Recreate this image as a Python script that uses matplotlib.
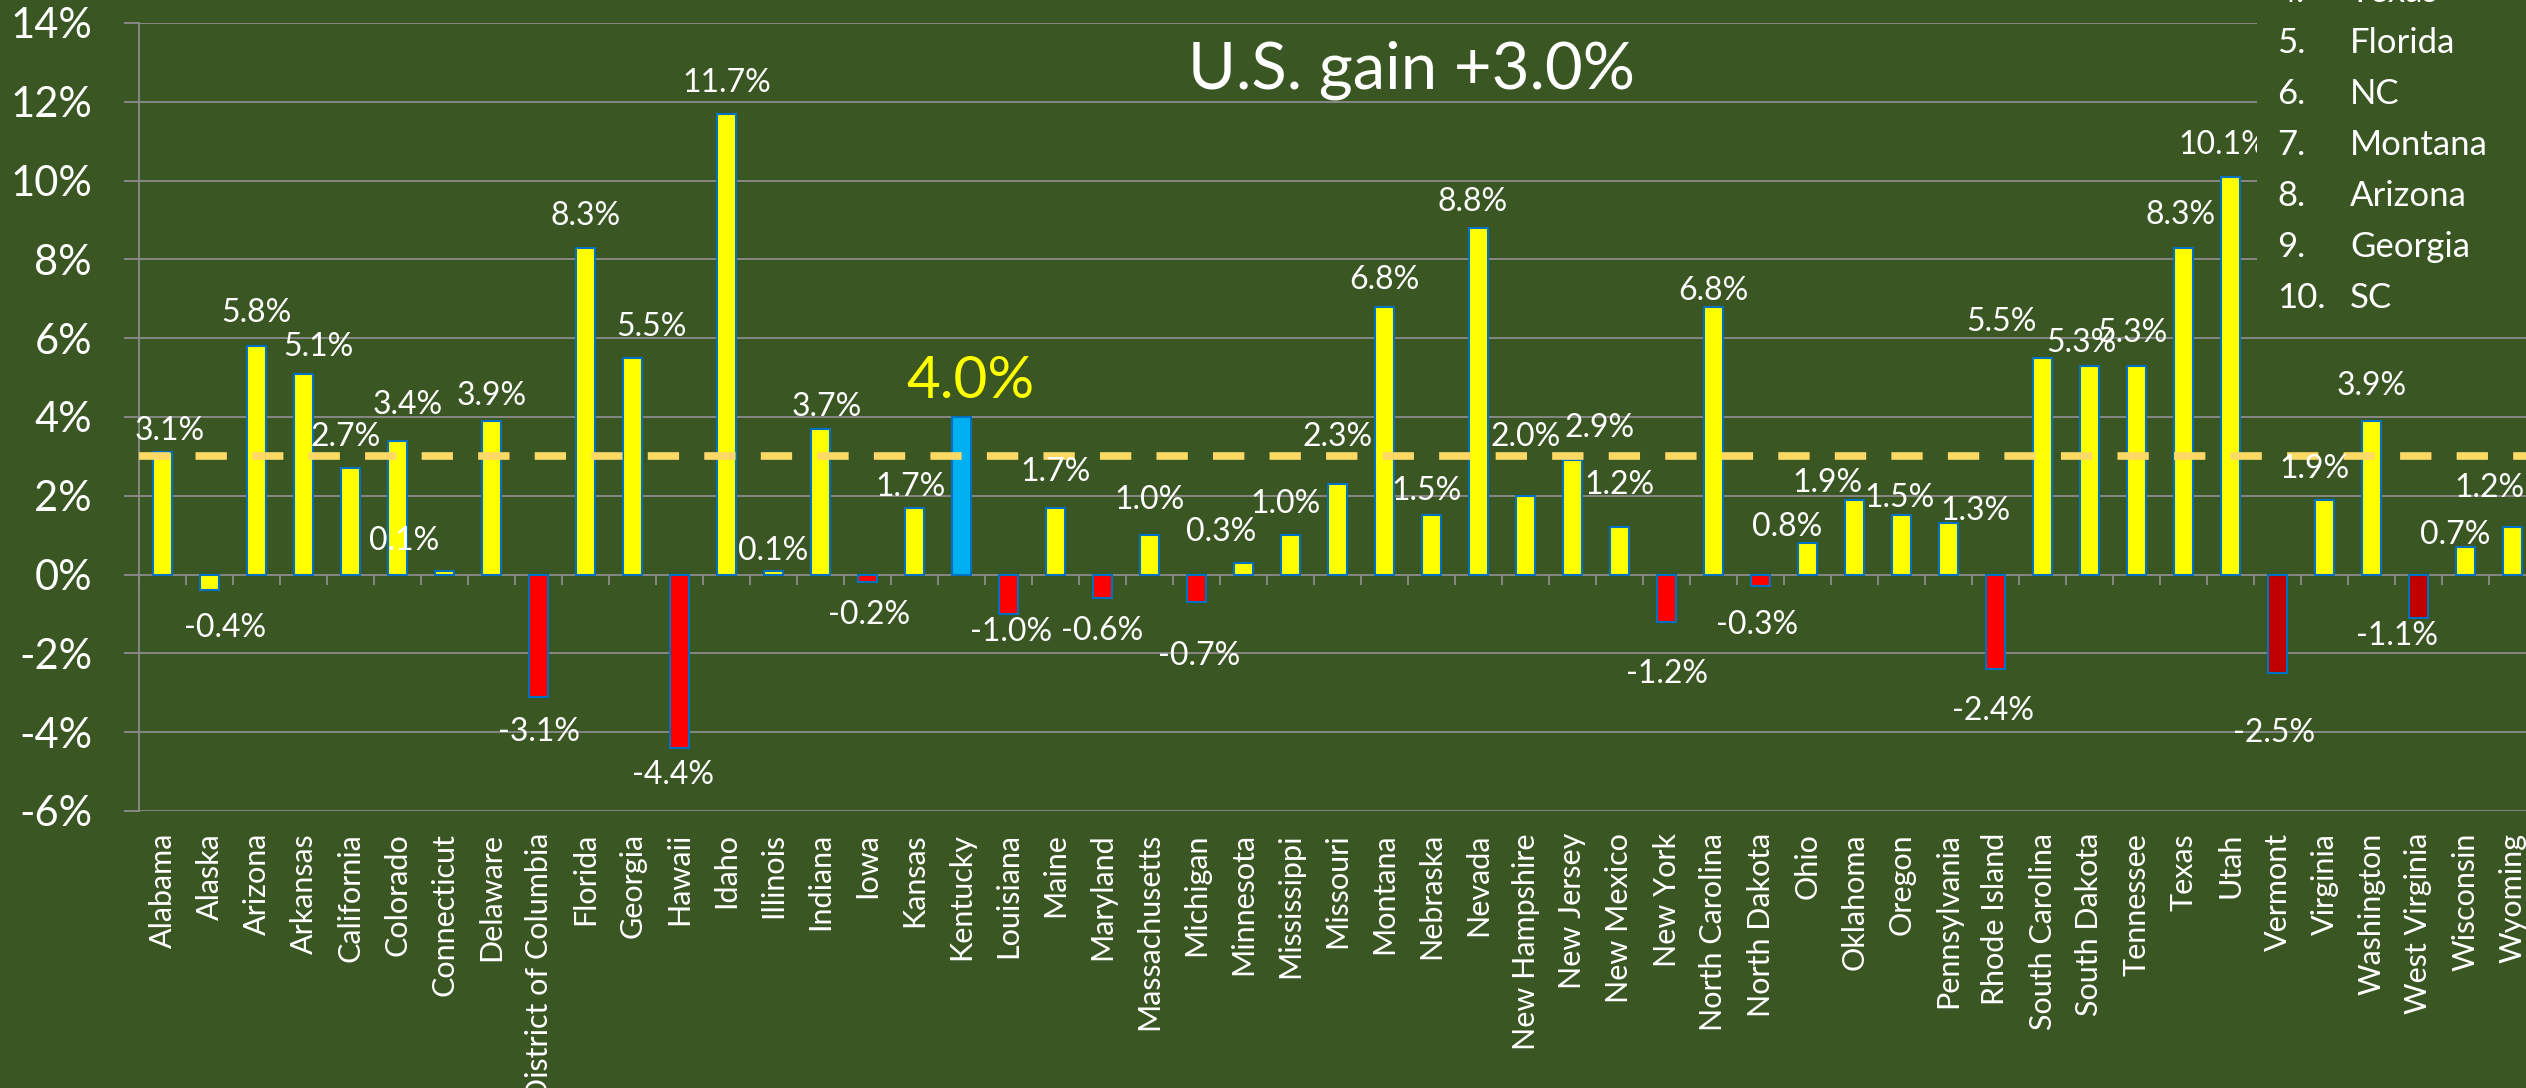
import matplotlib
matplotlib.use('Agg')
import matplotlib.pyplot as plt
from matplotlib.patches import Rectangle
from matplotlib.markers import TICKDOWN

plt.rcParams['font.family'] = ['Lato', 'DejaVu Sans']

states = ['Alabama', 'Alaska', 'Arizona', 'Arkansas', 'California', 'Colorado',
          'Connecticut', 'Delaware', 'District of Columbia', 'Florida', 'Georgia',
          'Hawaii', 'Idaho', 'Illinois', 'Indiana', 'Iowa', 'Kansas', 'Kentucky',
          'Louisiana', 'Maine', 'Maryland', 'Massachusetts', 'Michigan', 'Minnesota',
          'Mississippi', 'Missouri', 'Montana', 'Nebraska', 'Nevada', 'New Hampshire',
          'New Jersey', 'New Mexico', 'New York', 'North Carolina', 'North Dakota',
          'Ohio', 'Oklahoma', 'Oregon', 'Pennsylvania', 'Rhode Island',
          'South Carolina', 'South Dakota', 'Tennessee', 'Texas', 'Utah', 'Vermont',
          'Virginia', 'Washington', 'West Virginia', 'Wisconsin', 'Wyoming']
growth = [3.1, -0.4, 5.8, 5.1, 2.7, 3.4, 0.1, 3.9, -3.1, 8.3, 5.5, -4.4, 11.7,
          0.1, 3.7, -0.2, 1.7, 4.0, -1.0, 1.7, -0.6, 1.0, -0.7, 0.3, 1.0, 2.3,
          6.8, 1.5, 8.8, 2.0, 2.9, 1.2, -1.2, 6.8, -0.3, 0.8, 1.9, 1.5, 1.3, -2.4,
          5.5, 5.3, 5.3, 8.3, 10.1, -2.5, 1.9, 3.9, -1.1, 0.7, 1.2]
us_gain = 3.0
highlight = 'Kentucky'
top_ranks = [4, 5, 6, 7, 8, 9, 10]
top_names = ['Texas', 'Florida', 'NC', 'Montana', 'Arizona', 'Georgia', 'SC']
yticks = [-6, -4, -2, 0, 2, 4, 6, 8, 10, 12, 14]

BG = '#3A5623'
GRID = '#8C8C8C'
YELLOW = '#FFFF00'
RED = '#FF0000'
DARKRED = '#C00000'
BLUE = '#00B0F0'
EDGE = '#0070C0'
GOLD = '#FFD966'

colour_overrides = {'Alaska': YELLOW, 'Kentucky': BLUE,
                    'Vermont': DARKRED, 'West Virginia': DARKRED}
colours = [colour_overrides.get(s, YELLOW if v >= 0 else RED)
           for s, v in zip(states, growth)]

# hand-placed label nudges (pixels) like in the original sheet
nudge = {'Alabama': (7, -6), 'Alaska': (16, -3), 'Arizona': (0, 6),
         'Arkansas': (15, 0), 'California': (-5, 4), 'Colorado': (10, 9),
         'Connecticut': (-40, 3), 'Delaware': (0, -2), 'Florida': (0, 5),
         'Georgia': (19, 4), 'Hawaii': (-6, 8), 'Idaho': (0, 4),
         'Illinois': (0, -7), 'Indiana': (6, -5), 'Iowa': (2, 2),
         'Kansas': (-4, -6), 'Kentucky': (9, 1), 'Louisiana': (3, 17),
         'Maine': (0, 9), 'Maryland': (0, 2), 'Massachusetts': (0, 8),
         'Michigan': (3, -19), 'Minnesota': (-22, 4), 'Mississippi': (-5, 4),
         'Missouri': (0, 20), 'Nebraska': (-5, -3), 'Nevada': (-6, -1),
         'New Hampshire': (0, 32), 'New Jersey': (27, 5), 'New Mexico': (0, 15),
         'New York': (0, -17), 'North Carolina': (0, -11), 'North Dakota': (-3, -4),
         'Ohio': (-20, -11), 'Oklahoma': (-27, -10), 'Oregon': (-2, -10),
         'Pennsylvania': (27, -15), 'Rhode Island': (-3, -7),
         'South Carolina': (-41, 9), 'South Dakota': (-8, -4), 'Tennessee': (-4, 6),
         'Texas': (-3, 6), 'Utah': (-8, 5), 'Vermont': (-3, -25),
         'Virginia': (-10, 4), 'Washington': (0, 8), 'West Virginia': (-21, 17),
         'Wisconsin': (-10, -15), 'Wyoming': (-23, 12)}

W, H = 2526, 1088
PT = 0.72  # points per pixel at dpi 100

fig = plt.figure(figsize=(W / 100, H / 100), dpi=100, facecolor=BG)
ax = fig.add_axes([139 / W, 1 - 811 / H, (2536 - 139) / W, (811 - 23) / H], facecolor=BG)

x = list(range(len(states)))
ax.bar(x, growth, width=0.39, color=colours, edgecolor=EDGE, linewidth=1.5, zorder=2)
ax.axhline(us_gain, color=GOLD, lw=5.5, dashes=(4.1, 3.3), zorder=3)

for i, (s, v) in enumerate(zip(states, growth)):
    dx, dy = nudge.get(s, (0, 0))
    big = s == highlight
    if v >= 0:
        off, va = 18 + dy, 'baseline'
    else:
        off, va = -20 + dy, 'top'
    ax.annotate(f'{v:.1f}%', (i, v), xytext=(dx, off), textcoords='offset pixels',
                ha='center', va=va, color=YELLOW if big else 'white',
                fontsize=42 if big else 23, zorder=4, annotation_clip=False)

ax.set_xlim(-0.5, len(states) - 0.5)
ax.set_ylim(-6, 14)
ax.set_yticks(yticks)
ax.set_yticklabels([f'{t}%' for t in yticks])
ax.set_xticks(x)
ax.set_xticklabels(states, rotation=90)
ax.tick_params(axis='x', length=0, pad=22 * PT, labelsize=22, labelcolor='white')
ax.tick_params(axis='y', length=15 * PT, width=1.3, color=GRID, pad=32 * PT,
               labelsize=30, labelcolor='white')
ax.yaxis.grid(True, color=GRID, lw=1.3)
ax.set_axisbelow(True)
for side in ['top', 'right', 'bottom']:
    ax.spines[side].set_visible(False)
ax.spines['left'].set_color(GRID)
ax.spines['left'].set_linewidth(1.3)

# category boundary ticks on the zero line
bounds = [i - 0.5 for i in range(len(states) + 1)]
ax.plot(bounds, [0] * len(bounds), ls='none', marker=TICKDOWN, ms=10 * PT,
        mew=1.3, color=GRID, zorder=1, clip_on=False)

fig.text(1412 / W, 1 - 88 / H, f'U.S. gain +{us_gain:.1f}%', ha='center',
         va='baseline', color='white', fontsize=47)

# top-ten box in the upper right, covering the plot
fig.patches.append(Rectangle((2257 / W, 1 - 325 / H), (W - 2257) / W, 325 / H,
                             transform=fig.transFigure, facecolor=BG,
                             edgecolor='none', zorder=1))
for r, name in zip(top_ranks, top_names):
    yb = 1 - (53 + (r - 5) * 51) / H
    fig.text(2277 / W, yb, f'{r}.', color='white', fontsize=25, va='baseline', zorder=3)
    fig.text(2350 / W, yb, name, color='white', fontsize=25, va='baseline', zorder=3)

fig.savefig('out.png', dpi=100, facecolor=BG)
